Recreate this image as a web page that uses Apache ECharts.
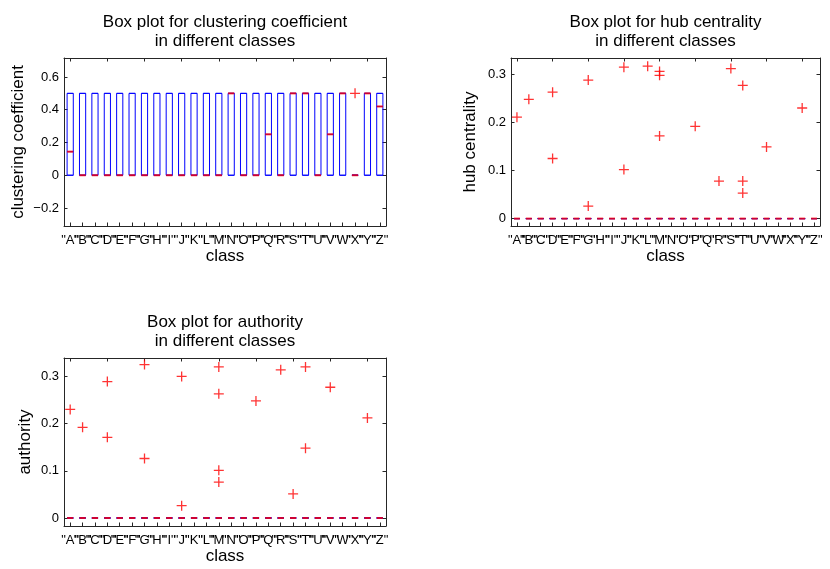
<!DOCTYPE html>
<html><head><meta charset="utf-8">
<script src="https://cdn.jsdelivr.net/npm/echarts@6/dist/echarts.min.js"></script>
<style>html,body{margin:0;padding:0;background:#fff}#c{width:830px;height:569px}</style>
</head><body><div id="c"></div>
<script>
// ---- data ----
const classLabels = ['"A"','"B"','"C"','"D"','"E"','"F"','"G"','"H"','"I"','"J"','"K"','"L"','"M"','"N"','"O"','"P"','"Q"','"R"','"S"','"T"','"U"','"V"','"W"','"X"','"Y"','"Z"'];

// clustering coefficient box statistics per class
const clusterLow    = [0,0,0,0,0,0,0,0,0,0,0,0,0,0,0,0,0,0,0,0,0,0,0,0,0,0];
const clusterQ1     = [0,0,0,0,0,0,0,0,0,0,0,0,0,0,0,0,0,0,0,0,0,0,0,0,0,0];
const clusterMedian = [0.144,0,0,0,0,0,0,0,0,0,0,0,0,0.5,0,0,0.25,0,0.5,0.5,0,0.25,0.5,0,0.5,0.42];
const clusterQ3     = [0.5,0.5,0.5,0.5,0.5,0.5,0.5,0.5,0.5,0.5,0.5,0.5,0.5,0.5,0.5,0.5,0.5,0.5,0.5,0.5,0.5,0.5,0.5,0,0.5,0.5];
const clusterHigh   = [0.5,0.5,0.5,0.5,0.5,0.5,0.5,0.5,0.5,0.5,0.5,0.5,0.5,0.5,0.5,0.5,0.5,0.5,0.5,0.5,0.5,0.5,0.5,0,0.5,0.5];
const clusterOutClass = ['"X"'];
const clusterOutValue = [0.5];
const clusterTicks = [-0.2, 0, 0.2, 0.4, 0.6];

// hub centrality box statistics per class (all degenerate at 0)
const hubLow    = [0,0,0,0,0,0,0,0,0,0,0,0,0,0,0,0,0,0,0,0,0,0,0,0,0,0];
const hubQ1     = [0,0,0,0,0,0,0,0,0,0,0,0,0,0,0,0,0,0,0,0,0,0,0,0,0,0];
const hubMedian = [0,0,0,0,0,0,0,0,0,0,0,0,0,0,0,0,0,0,0,0,0,0,0,0,0,0];
const hubQ3     = [0,0,0,0,0,0,0,0,0,0,0,0,0,0,0,0,0,0,0,0,0,0,0,0,0,0];
const hubHigh   = [0,0,0,0,0,0,0,0,0,0,0,0,0,0,0,0,0,0,0,0,0,0,0,0,0,0];
const hubOutClass = ['"A"','"B"','"D"','"D"','"G"','"G"','"J"','"J"','"L"','"M"','"M"','"M"','"P"','"R"','"S"','"T"','"T"','"T"','"V"','"Y"'];
const hubOutValue = [0.211,0.248,0.263,0.125,0.288,0.026,0.315,0.102,0.317,0.306,0.298,0.172,0.192,0.078,0.312,0.277,0.078,0.053,0.149,0.230];
const hubTicks = [0, 0.1, 0.2, 0.3];

// authority box statistics per class (all degenerate at 0)
const authLow    = [0,0,0,0,0,0,0,0,0,0,0,0,0,0,0,0,0,0,0,0,0,0,0,0,0,0];
const authQ1     = [0,0,0,0,0,0,0,0,0,0,0,0,0,0,0,0,0,0,0,0,0,0,0,0,0,0];
const authMedian = [0,0,0,0,0,0,0,0,0,0,0,0,0,0,0,0,0,0,0,0,0,0,0,0,0,0];
const authQ3     = [0,0,0,0,0,0,0,0,0,0,0,0,0,0,0,0,0,0,0,0,0,0,0,0,0,0];
const authHigh   = [0,0,0,0,0,0,0,0,0,0,0,0,0,0,0,0,0,0,0,0,0,0,0,0,0,0];
const authOutClass = ['"A"','"B"','"D"','"D"','"G"','"G"','"J"','"J"','"M"','"M"','"M"','"M"','"P"','"R"','"S"','"T"','"T"','"V"','"Y"'];
const authOutValue = [0.230,0.192,0.289,0.171,0.325,0.126,0.300,0.026,0.320,0.263,0.101,0.076,0.248,0.314,0.051,0.320,0.148,0.277,0.212];
const authTicks = [0, 0.1, 0.2, 0.3];

// ---- chart ----
const FONT = '"Liberation Sans", Arial, Helvetica, sans-serif';
const AXIS = '#262626';
const panels = [
  { title: 'Box plot for clustering coefficient\nin different classes', yName: 'clustering coefficient',
    grid: {left: 64, top: 58, width: 322, height: 168}, min: -0.31, max: 0.716, ticks: clusterTicks, nameGap: 37,
    low: clusterLow, q1: clusterQ1, med: clusterMedian, q3: clusterQ3, high: clusterHigh,
    outC: clusterOutClass, outV: clusterOutValue },
  { title: 'Box plot for hub centrality\nin different classes', yName: 'hub centrality',
    grid: {left: 511, top: 58, width: 309, height: 168}, min: -0.0154, max: 0.334, ticks: hubTicks, nameGap: 32,
    low: hubLow, q1: hubQ1, med: hubMedian, q3: hubQ3, high: hubHigh,
    outC: hubOutClass, outV: hubOutValue },
  { title: 'Box plot for authority\nin different classes', yName: 'authority',
    grid: {left: 64, top: 358, width: 322, height: 168}, min: -0.017, max: 0.339, ticks: authTicks, nameGap: 30,
    low: authLow, q1: authQ1, med: authMedian, q3: authQ3, high: authHigh,
    outC: authOutClass, outV: authOutValue }
];

const option = { animation: false, title: [], grid: [], xAxis: [], yAxis: [], series: [],
  textStyle: { fontFamily: FONT } };

const plusPath = 'path://M0,5L10,5M5,0L5,10';

panels.forEach((p, i) => {
  const bw = p.grid.width / classLabels.length * 0.5;
  option.grid.push(p.grid);
  option.title.push({
    text: p.title, left: p.grid.left + p.grid.width / 2, top: p.grid.top - 45, textAlign: 'center', padding: 0,
    textStyle: { fontFamily: FONT, fontSize: 17, fontWeight: 'normal', color: '#000', lineHeight: 19 }
  });
  const lineStyle = { color: AXIS, width: 1 };
  option.xAxis.push({
    gridIndex: i, type: 'category', data: classLabels, position: 'bottom', boundaryGap: true,
    axisLine: { show: true, onZero: false, lineStyle },
    axisTick: { show: true, inside: true, alignWithLabel: true, length: 3.5, lineStyle },
    axisLabel: { interval: 0, hideOverlap: false, fontSize: 13, color: '#000', margin: 8, fontFamily: FONT },
    splitLine: { show: false },
    name: 'class', nameLocation: 'middle', nameGap: 22,
    nameTextStyle: { fontSize: 17, color: '#000', fontFamily: FONT }
  });
  option.xAxis.push({
    gridIndex: i, type: 'category', data: classLabels, position: 'top', boundaryGap: true,
    axisLine: { show: true, onZero: false, lineStyle },
    axisTick: { show: true, inside: true, alignWithLabel: true, length: 3.5, lineStyle },
    axisLabel: { show: false }, splitLine: { show: false }
  });
  option.yAxis.push({
    gridIndex: i, type: 'value', position: 'left', min: p.min, max: p.max,
    axisLine: { show: true, onZero: false, lineStyle },
    axisTick: { show: true, inside: true, length: 3.5, lineStyle, customValues: p.ticks },
    axisLabel: { fontSize: 13, color: '#000', margin: 5, fontFamily: FONT, customValues: p.ticks,
      formatter: v => String(v).replace('-', '\u2212') },
    splitLine: { show: false },
    name: p.yName, nameLocation: 'middle', nameGap: p.nameGap,
    nameTextStyle: { fontSize: 17, color: '#000', fontFamily: FONT }
  });
  option.yAxis.push({
    gridIndex: i, type: 'value', position: 'right', min: p.min, max: p.max,
    axisLine: { show: true, onZero: false, lineStyle },
    axisTick: { show: true, inside: true, length: 3.5, lineStyle, customValues: p.ticks },
    axisLabel: { show: false }, splitLine: { show: false }
  });
  option.series.push({
    type: 'boxplot', xAxisIndex: 2 * i, yAxisIndex: 2 * i, silent: true,
    boxWidth: [bw, bw],
    itemStyle: { color: 'rgba(0,0,0,0)', borderColor: '#0000ff', borderWidth: 1 },
    data: classLabels.map((c, k) => [p.low[k], p.q1[k], p.med[k], p.q3[k], p.high[k]])
  });
  option.series.push({
    type: 'scatter', xAxisIndex: 2 * i, yAxisIndex: 2 * i, silent: true,
    symbol: 'rect', symbolSize: [bw, 2],
    itemStyle: { color: '#ff0000' },
    data: classLabels.map((c, k) => [c, p.med[k]])
  });
  option.series.push({
    type: 'scatter', xAxisIndex: 2 * i, yAxisIndex: 2 * i, silent: true,
    symbol: plusPath, symbolSize: 10,
    itemStyle: { color: 'rgba(0,0,0,0)', borderColor: '#ff0000', borderWidth: 1.3 },
    data: p.outC.map((c, k) => [c, p.outV[k]])
  });
});

const chart = echarts.init(document.getElementById('c'), null, { renderer: 'canvas' });
chart.setOption(option);
</script>
</body></html>
